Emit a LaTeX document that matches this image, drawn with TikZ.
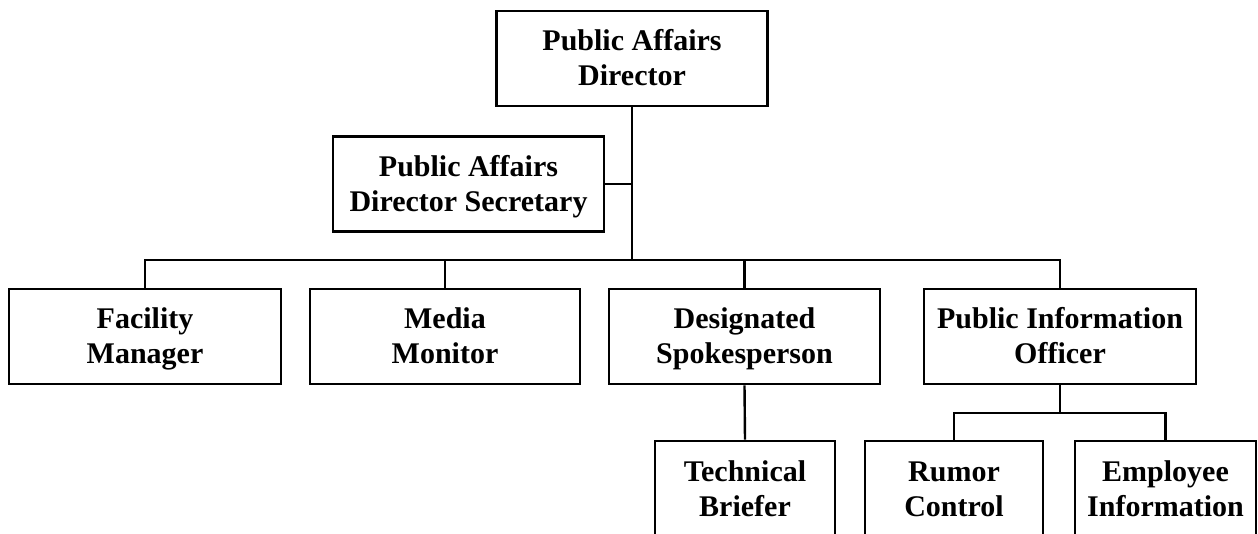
\documentclass[tikz,border=0pt]{standalone}
\usepackage{fontspec}
\setmainfont{Liberation Serif}
\begin{document}
\begin{tikzpicture}[x=1bp,y=-1bp,
  box/.style={draw=black,line width=2.6bp,fill=white,align=center,
    font=\fontsize{30bp}{35bp}\selectfont\bfseries,inner sep=0pt,
    text height=55bp,text depth=0bp,
    minimum height=95bp},
  wbox/.style={box,minimum width=271bp},
  nbox/.style={box,minimum width=180bp},
  conn/.style={draw=black,line width=2.4bp}]
\useasboundingbox (0,0) rectangle (1258,534);
\clip (0,0) rectangle (1258,534);
\node[wbox] (dir) at (632,58.5) {Public Affairs\\Director};
\node[wbox] (sec) at (468.5,184) {Public Affairs\\Director Secretary};
\node[wbox,minimum width=272bp] (fac) at (145,336.5) {Facility\\Manager};
\node[wbox,minimum width=270bp] (med) at (445,336.5) {Media\\Monitor};
\node[wbox] (des) at (744.5,336.5) {Designated\\Spokesperson};
\node[wbox,minimum width=272bp] (pio) at (1060,336.5) {Public Information\\Officer};
\node[nbox] (tec) at (745,488.5) {Technical\\Briefer};
\node[nbox,minimum width=178bp] (rum) at (954,488.5) {Rumor\\Control};
\node[nbox,minimum width=181bp] (emp) at (1165.5,488.5) {Employee\\Information};
\coordinate (bus) at (632,260);
\coordinate (sub) at (1060,413);
\draw[conn] (dir.south) -- (bus);
\draw[conn] (sec.east) -- (sec.east -| dir.south);
\draw[conn] (fac.north) -- (fac.north |- bus) -| (pio.north);
\draw[conn] (med.north) -- (med.north |- bus);
\draw[conn] (des.north) -- (des.north |- bus);
\draw[conn] (des.south) -- (tec.north);
\draw[conn] (pio.south) -- (sub);
\draw[conn] (rum.north) -- (rum.north |- sub) -| (emp.north);
\end{tikzpicture}
\end{document}
